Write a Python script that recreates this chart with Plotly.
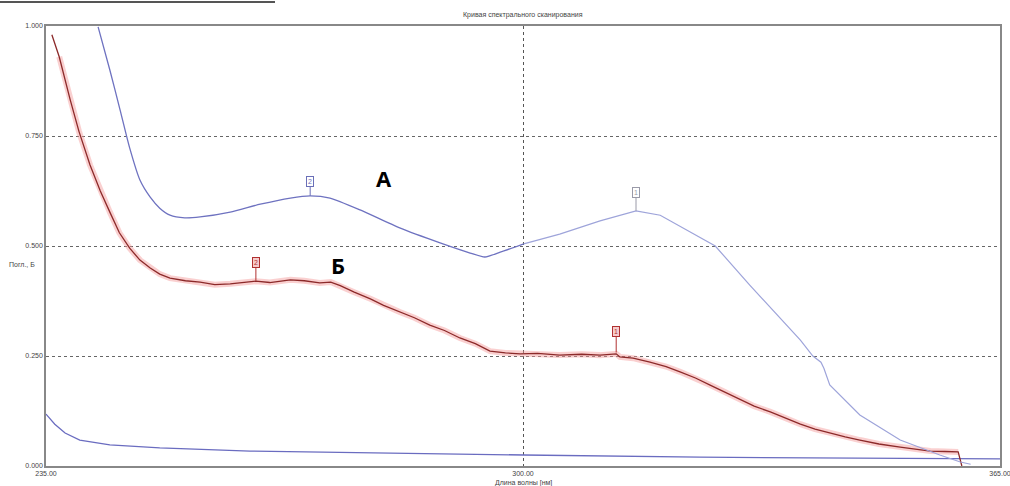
import plotly.graph_objects as go

# Curve A (blue)
a_nm = [242.1, 243.7, 245.1, 246.4, 247.8, 249.2, 250.5, 251.9, 253.9, 256.0, 260.1, 264.2,
        268.3, 271.0, 273.7, 277.8, 283.2, 288.7, 292.8, 294.8, 296.9, 300.1]
a_abs = [0.998, 0.900, 0.809, 0.723, 0.650, 0.611, 0.586, 0.570, 0.564, 0.566, 0.577, 0.595,
         0.609, 0.614, 0.609, 0.582, 0.541, 0.507, 0.484, 0.475, 0.486, 0.505]
a2_nm = [300.1, 305.0, 310.5, 315.4, 318.7, 322.8, 326.2, 330.9, 335.0, 337.8, 339.5, 340.6,
         341.0, 341.8, 345.9, 351.4, 356.8, 359.6, 361.0]
a2_abs = [0.505, 0.527, 0.557, 0.580, 0.570, 0.532, 0.500, 0.411, 0.336, 0.286, 0.250, 0.236,
          0.222, 0.184, 0.116, 0.059, 0.025, 0.009, 0.004]

# Curve B (red)
b_nm = [235.8, 236.8, 238.3, 239.5, 241.0, 242.4, 243.7, 245.0, 246.4, 247.8, 249.2, 250.5,
        251.9, 254.0, 256.0, 258.0, 260.1, 262.0, 263.6, 265.5, 268.3, 270.2, 272.3, 273.8,
        275.1, 277.0, 279.2, 281.0, 283.2, 285.2, 287.3, 289.3, 291.4, 293.5, 295.5, 297.6,
        299.6, 302.0, 305.0, 308.0, 310.5, 312.7, 313.2, 315.0, 317.3, 319.5, 321.4, 323.5,
        325.5, 327.5, 329.6, 331.5, 333.7, 335.8, 337.8, 339.8, 341.8, 343.9, 345.9, 348.5,
        351.4, 353.5, 355.5, 357.5, 359.3, 359.8]
b_abs = [0.980, 0.930, 0.832, 0.760, 0.684, 0.625, 0.577, 0.530, 0.495, 0.468, 0.450, 0.436,
         0.427, 0.421, 0.418, 0.412, 0.414, 0.418, 0.420, 0.417, 0.423, 0.421, 0.416, 0.418,
         0.410, 0.395, 0.380, 0.365, 0.350, 0.337, 0.320, 0.308, 0.291, 0.278, 0.261, 0.257,
         0.255, 0.256, 0.252, 0.254, 0.252, 0.255, 0.248, 0.245, 0.236, 0.226, 0.214, 0.200,
         0.184, 0.168, 0.150, 0.136, 0.123, 0.108, 0.095, 0.084, 0.075, 0.066, 0.059, 0.050,
         0.043, 0.038, 0.034, 0.033, 0.032, 0.000]

# Baseline
c_nm = [235.0, 236.2, 237.6, 239.6, 243.7, 250.5, 262.8, 283.2, 300.1, 324.1, 351.4, 365.0]
c_abs = [0.118, 0.095, 0.075, 0.059, 0.048, 0.041, 0.034, 0.030, 0.025, 0.020, 0.018, 0.016]

# Peak markers
mark_nm = [271.0, 315.4, 263.6, 312.7]
mark_abs = [0.614, 0.580, 0.421, 0.258]
mark_txt = ["2", "1", "2", "1"]
mark_col = ["#6a6fb8", "#9a9aa8", "#b03030", "#b03030"]
mark_ay = [-14, -18, -18, -21]

title = "Кривая спектрального сканирования"
x_title = "Длина волны [нм]"
y_title = "Погл., Б"
x_ticks = [235, 300, 365]
x_ticktext = ["235.00", "300.00", "365.00"]
y_ticks = [0, 0.25, 0.5, 0.75, 1.0]
y_ticktext = ["0.000", "0.250", "0.500", "0.750", "1.000"]

fig = go.Figure()
fig.add_trace(go.Scatter(x=c_nm, y=c_abs, mode="lines",
                         line=dict(color="#6a6cc0", width=1.3), hoverinfo="skip"))
fig.add_trace(go.Scatter(x=b_nm[1:-1], y=b_abs[1:-1], mode="lines",
                         line=dict(color="rgba(245,150,150,0.45)", width=6), hoverinfo="skip"))
fig.add_trace(go.Scatter(x=b_nm, y=b_abs, mode="lines",
                         line=dict(color="#8c2a2a", width=1.3), hoverinfo="skip"))
fig.add_trace(go.Scatter(x=a_nm, y=a_abs, mode="lines", line_shape="spline",
                         line=dict(color="#6e72c0", width=1.3, smoothing=0.6), hoverinfo="skip"))
fig.add_trace(go.Scatter(x=a2_nm, y=a2_abs, mode="lines",
                         line=dict(color="#9ea4da", width=1.2), hoverinfo="skip"))

annotations = []
for nm, ab, t, col, ay in zip(mark_nm, mark_abs, mark_txt, mark_col, mark_ay):
    annotations.append(dict(x=nm, y=ab, xref="x", yref="y", text=t, showarrow=True,
                            arrowhead=0, arrowwidth=1, arrowcolor=col, ax=0, ay=ay,
                            font=dict(size=7, color=col, family="Liberation Sans"),
                            bordercolor=col, borderwidth=1, borderpad=1,
                            bgcolor="rgba(255,255,255,0.9)" if col != "#b03030" else "rgba(240,170,170,0.6)"))
annotations += [
    dict(x=281.1, y=0.655, xref="x", yref="y", text="<b>А</b>", showarrow=False,
         font=dict(size=22, color="black", family="Open Sans")),
    dict(x=274.8, y=0.457, xref="x", yref="y", text="<b>Б</b>", showarrow=False,
         font=dict(size=22, color="black", family="Open Sans")),
    dict(x=0.5, y=(466 - 15) / 440, xref="paper", yref="paper", text=title, showarrow=False,
         xanchor="center", yanchor="middle",
         font=dict(size=7, color="#444444", family="Liberation Sans")),
    dict(x=0.5, y=-(483 - 466) / 440, xref="paper", yref="paper", text=x_title, showarrow=False,
         xanchor="center", yanchor="middle",
         font=dict(size=7, color="#444444", family="Liberation Sans")),
    dict(x=-24 / 954, y=(466 - 264) / 440, xref="paper", yref="paper", text=y_title,
         xanchor="center", yanchor="middle",
         showarrow=False, font=dict(size=7, color="#444444", family="Liberation Sans")),
]

fig.update_layout(
    width=1010, height=486,
    margin=dict(l=46, r=10, t=26, b=20, autoexpand=False),
    paper_bgcolor="white", plot_bgcolor="white",
    showlegend=False,
    annotations=annotations,
    shapes=[dict(type="line", xref="paper", yref="paper", x0=-46 / 954, x1=(275 - 46) / 954,
                 y0=(466 - 2) / 440, y1=(466 - 2) / 440, line=dict(color="#555555", width=2))],
)
fig.update_xaxes(range=[235, 365], tickvals=x_ticks, ticktext=x_ticktext,
                 automargin=False, ticklabeloverflow="allow",
                 showgrid=True, gridcolor="#555555", griddash="dot", gridwidth=1,
                 showline=True, linecolor="#888888", linewidth=1.5, mirror=True,
                 zeroline=False, ticks="", tickfont=dict(size=7, color="#444444",
                                                         family="Liberation Sans"))
fig.update_yaxes(range=[0, 1], tickvals=y_ticks, ticktext=y_ticktext,
                 automargin=False,
                 showgrid=True, gridcolor="#666666", griddash="dot", gridwidth=1,
                 showline=True, linecolor="#888888", linewidth=1.5, mirror=True,
                 zeroline=False, ticks="", tickfont=dict(size=7, color="#444444",
                                                         family="Liberation Sans"))

fig.write_html("out.html")
